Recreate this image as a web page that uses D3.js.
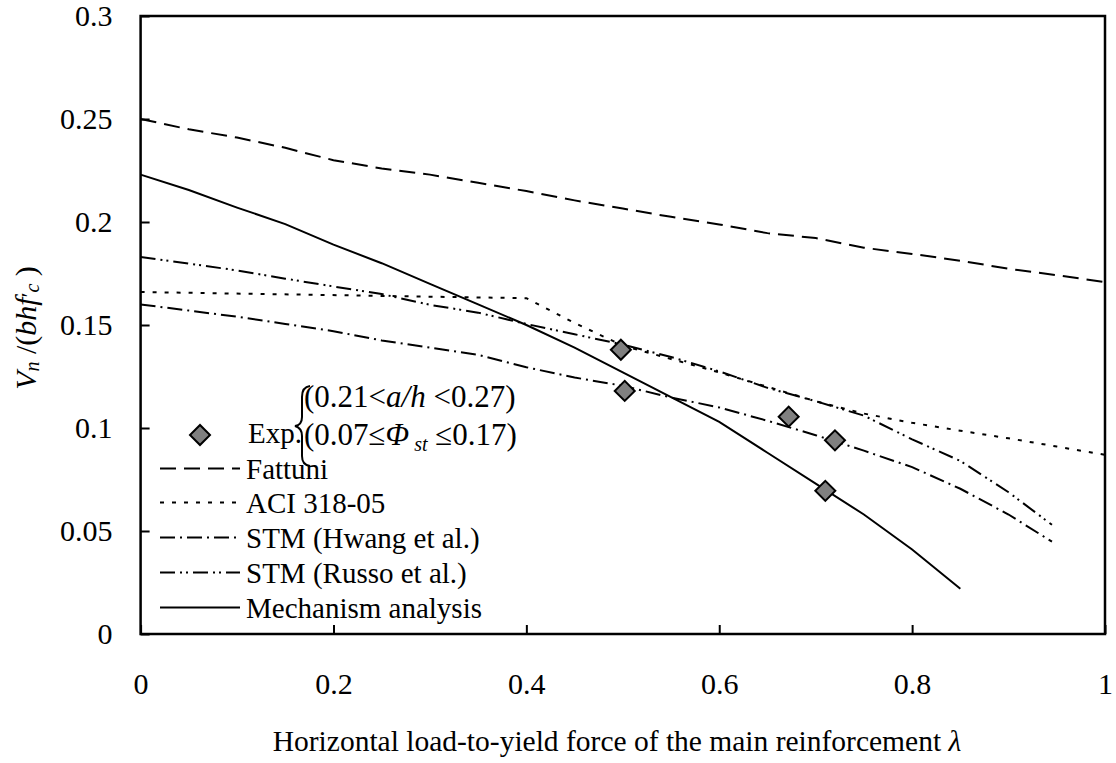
<!DOCTYPE html>
<html>
<head>
<meta charset="utf-8">
<script src="https://cdn.jsdelivr.net/npm/d3@7.9.0/dist/d3.min.js"></script>
<style>
  body { margin: 0; background: #fff; }
  svg text { font-family: "Liberation Serif", "Times New Roman", serif; fill: #000; }
  .tick text { font-size: 30px; }
</style>
</head>
<body>
<svg id="chart" width="1116" height="763"></svg>
<script>
// values (lambda on x, Vn/(bhf'c) on y)
const fattuniX = [0, 0.05, 0.1, 0.15, 0.2, 0.25, 0.3, 0.35, 0.4, 0.45, 0.5, 0.55, 0.6, 0.65, 0.7, 0.75, 0.8, 0.85, 0.9, 0.95, 1];
const fattuniY = [0.250, 0.245, 0.241, 0.236, 0.230, 0.226, 0.223, 0.219, 0.215, 0.2105, 0.2065, 0.2025, 0.1988, 0.1946, 0.1922, 0.1875, 0.1845, 0.1812, 0.1773, 0.1742, 0.1708];

const aciX = [0, 0.4, 0.45, 0.5, 0.55, 0.6, 0.65, 0.7, 0.75, 0.8, 0.85, 0.9, 0.95, 1];
const aciY = [0.166, 0.163, 0.151, 0.140, 0.1335, 0.127, 0.120, 0.113, 0.107, 0.1025, 0.0987, 0.095, 0.091, 0.087];

const hwangX = [0, 0.05, 0.1, 0.15, 0.2, 0.25, 0.3, 0.35, 0.4, 0.45, 0.5, 0.55, 0.6, 0.65, 0.7, 0.75, 0.8, 0.85, 0.9, 0.945];
const hwangY = [0.160, 0.157, 0.154, 0.1505, 0.147, 0.1425, 0.139, 0.1355, 0.1295, 0.1245, 0.1205, 0.1148, 0.110, 0.1035, 0.0965, 0.089, 0.081, 0.0705, 0.058, 0.0448];

const russoX = [0, 0.05, 0.1, 0.15, 0.2, 0.25, 0.3, 0.35, 0.4, 0.45, 0.5, 0.55, 0.6, 0.65, 0.7, 0.75, 0.8, 0.85, 0.9, 0.945];
const russoY = [0.183, 0.1798, 0.1765, 0.1725, 0.1687, 0.165, 0.1598, 0.156, 0.1505, 0.1455, 0.1405, 0.1345, 0.1275, 0.1195, 0.113, 0.106, 0.0945, 0.084, 0.0688, 0.053];

const mechX = [0, 0.05, 0.1, 0.15, 0.2, 0.25, 0.3, 0.35, 0.4, 0.45, 0.5, 0.55, 0.6, 0.65, 0.7, 0.75, 0.8, 0.85];
const mechY = [0.223, 0.2155, 0.207, 0.199, 0.189, 0.180, 0.170, 0.160, 0.150, 0.139, 0.127, 0.115, 0.103, 0.088, 0.073, 0.058, 0.041, 0.022];

const expX = [0.498, 0.502, 0.672, 0.720, 0.710];
const expY = [0.138, 0.118, 0.1055, 0.094, 0.0695];

const xTicks = [0, 0.2, 0.4, 0.6, 0.8, 1];
const xTickLabels = ['0', '0.2', '0.4', '0.6', '0.8', '1'];
const yTicks = [0, 0.05, 0.1, 0.15, 0.2, 0.25, 0.3];
const yTickLabels = ['0', '0.05', '0.1', '0.15', '0.2', '0.25', '0.3'];

const seriesNames = ['Fattuni', 'ACI 318-05', 'STM (Hwang et al.)', 'STM (Russo et al.)', 'Mechanism analysis'];

const svg = d3.select('#chart');
const plotLeft = 140.6, plotRight = 1105, plotTop = 16, plotBottom = 634;

const x = d3.scaleLinear().domain([0, 1]).range([plotLeft, plotRight]);
const y = d3.scaleLinear().domain([0, 0.3]).range([plotBottom, plotTop]);

// dash styles for the five curves
const dashes = ['16,8', '4,8', '15,5,2,5', '15,5,2,4,2,5', null];

const series = [
  [fattuniX, fattuniY],
  [aciX, aciY],
  [hwangX, hwangY],
  [russoX, russoY],
  [mechX, mechY],
];

// axes with inward ticks
const xAxis = d3.axisBottom(x)
  .tickValues(xTicks)
  .tickFormat((d, i) => xTickLabels[i])
  .tickSizeInner(-9).tickSizeOuter(0).tickPadding(39);
const yAxis = d3.axisLeft(y)
  .tickValues(yTicks)
  .tickFormat((d, i) => yTickLabels[i])
  .tickSizeInner(-9).tickSizeOuter(0).tickPadding(28);

const gx = svg.append('g').attr('transform', `translate(0,${plotBottom})`).call(xAxis);
const gy = svg.append('g').attr('transform', `translate(${plotLeft},0)`).call(yAxis);
[gx, gy].forEach(g => {
  g.select('.domain').remove();
  g.attr('font-family', null).attr('font-size', null);
  g.selectAll('.tick line').attr('stroke', '#000').attr('stroke-width', 2);
});

const line = d3.line().x(d => x(d[0])).y(d => y(d[1]));

series.forEach(([xs, ys], i) => {
  svg.append('path')
    .attr('d', line(xs.map((v, k) => [v, ys[k]])))
    .attr('fill', 'none')
    .attr('stroke', '#000')
    .attr('stroke-width', 2)
    .attr('stroke-dasharray', dashes[i]);
});

// plot frame
svg.append('rect')
  .attr('x', plotLeft).attr('y', plotTop)
  .attr('width', plotRight - plotLeft).attr('height', plotBottom - plotTop)
  .attr('fill', 'none').attr('stroke', '#000').attr('stroke-width', 2.5);

const diamond = d3.symbol().type(d3.symbolSquare).size(200);

svg.append('g').selectAll('path')
  .data(expX.map((v, k) => [v, expY[k]]))
  .join('path')
  .attr('d', diamond)
  .attr('transform', d => `translate(${x(d[0])},${y(d[1])}) rotate(45)`)
  .attr('fill', '#808080')
  .attr('stroke', '#000')
  .attr('stroke-width', 2);

// legend
const legend = svg.append('g').attr('font-size', 29);

legend.append('path')
  .attr('d', diamond)
  .attr('transform', 'translate(200,435) rotate(45)')
  .attr('fill', '#808080').attr('stroke', '#000').attr('stroke-width', 2);
legend.append('text').attr('x', 248).attr('y', 443).text('Exp.');

legend.append('path')
  .attr('d', 'M310,386 Q302,387 302,397 L302,417 Q302,425 295,426 Q302,428 302,436 L302,456 Q302,465 310,466')
  .attr('fill', 'none').attr('stroke', '#000').attr('stroke-width', 2);

const cond1 = legend.append('text').attr('x', 304).attr('y', 407).attr('font-size', 31);
cond1.append('tspan').text('(0.21<');
cond1.append('tspan').attr('font-style', 'italic').text('a/h');
cond1.append('tspan').text(' <0.27)');

const cond2 = legend.append('text').attr('x', 304).attr('y', 445).attr('font-size', 31);
cond2.append('tspan').text('(0.07≤');
cond2.append('tspan').attr('font-style', 'italic').text('Φ');
cond2.append('tspan').attr('font-style', 'italic').attr('font-size', 20).attr('dy', 6).text(' st');
cond2.append('tspan').attr('dy', -6).text(' ≤0.17)');

const rowY = [479, 513, 548, 583, 618];
seriesNames.forEach((name, i) => {
  legend.append('line')
    .attr('x1', 160).attr('x2', 240)
    .attr('y1', rowY[i] - 10.5).attr('y2', rowY[i] - 10.5)
    .attr('stroke', '#000').attr('stroke-width', 2)
    .attr('stroke-dasharray', dashes[i]);
  legend.append('text').attr('x', 246).attr('y', rowY[i]).text(name);
});

// axis titles
const xt = svg.append('text')
  .attr('x', 617).attr('y', 751)
  .attr('text-anchor', 'middle').attr('font-size', 29.5);
xt.append('tspan').text('Horizontal load-to-yield force of the main reinforcement ');
xt.append('tspan').attr('font-style', 'italic').text('λ');

const yt = svg.append('text')
  .attr('transform', 'translate(36,328) rotate(-90)')
  .attr('text-anchor', 'middle').attr('font-size', 30);
yt.append('tspan').attr('font-style', 'italic').text('V');
yt.append('tspan').attr('font-style', 'italic').attr('font-size', 20).attr('dy', 3).text('n');
yt.append('tspan').attr('dy', -3).text(' /(');
yt.append('tspan').attr('font-style', 'italic').text('bhf');
yt.append('tspan').attr('font-size', 22).text('′');
yt.append('tspan').attr('font-style', 'italic').attr('font-size', 20).attr('dy', 3).text('c');
yt.append('tspan').attr('dy', -3).text(' )');
</script>
</body>
</html>
